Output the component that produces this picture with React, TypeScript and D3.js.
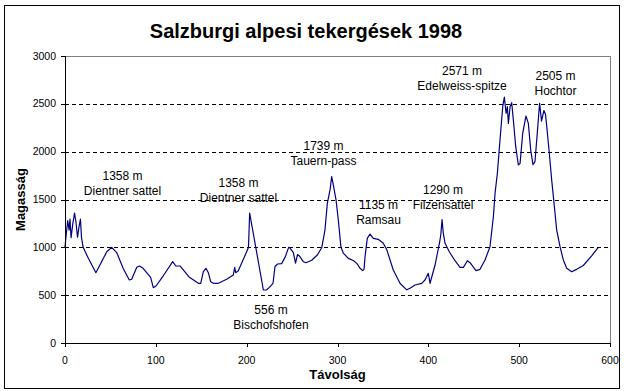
import React from "react";
import * as d3 from "d3";

const distance = [
  0, 1.5, 3, 4.5, 5.5, 6.7, 8.5, 10.5, 12, 13.8, 15.5, 17, 18.2, 20, 25.7, 34, 46, 51.4, 57, 64,
  70.8, 73.4, 79, 82, 86, 94.3, 97.2, 100.2, 108, 118.6, 122, 126.6, 137, 146.8, 149.4, 152.3,
  155.2, 157.8, 160.4, 163.3, 168.8, 178, 185.3, 186.8, 187.9, 190.8, 200, 202, 203.3, 218.4,
  222, 225, 229, 231.2, 234, 238.5, 242.5, 246.2, 248, 251.4, 253.8, 256, 258, 262.4, 265.3,
  271.6, 277.8, 282.6, 286.2, 288.8, 291.8, 293.6, 295.4, 298.4, 300.9, 303.8, 306.4, 311.9,
  317.4, 321.5, 324.8, 327.7, 329.2, 330.3, 332.8, 335.8, 339.4, 344.9, 350.4, 354.1, 361.4,
  368.8, 376.2, 379.8, 385.3, 392.7, 396.3, 400, 401.9, 403.7, 407.4, 412.2, 413.7, 415.1,
  416.5, 418.4, 423.1, 429.4, 434.9, 438.6, 443, 445.9, 452.5, 456.9, 462.4, 467.9, 471.6,
  473.4, 476, 478.9, 481.9, 483.7, 485.6, 487, 488.1, 490, 491.8, 493.6, 496.2, 499.1, 501,
  503.9, 507.5, 510.1, 512.7, 515.2, 517.4, 520, 522.5, 524.6, 527.2, 529, 530.4, 533.2, 535.8,
  538.4, 541.3, 545, 548.6, 552.3, 557.8, 563.3, 570.6, 579.8, 587.1,
];

const elevation = [
  1000, 1150, 1280, 1180, 1296, 1100, 1240, 1358, 1270, 1105, 1220, 1295, 1100, 1000, 885, 735,
  954, 1000, 944, 781, 659, 666, 791, 805, 781, 687, 578, 596, 700, 850, 805, 805, 687, 624, 624,
  745, 781, 735, 641, 624, 624, 666, 711, 791, 735, 756, 954, 1000, 1358, 554, 556, 582, 624,
  800, 826, 830, 900, 1000, 990, 944, 835, 925, 910, 850, 839, 865, 920, 995, 1181, 1460, 1600,
  1739, 1652, 1495, 1286, 1000, 940, 885, 862, 830, 781, 756, 770, 902, 1094, 1139, 1094, 1084,
  1042, 979, 763, 624, 556, 572, 606, 624, 659, 729, 624, 687, 815, 1042, 1129, 1290, 1146,
  1042, 954, 860, 791, 791, 860, 839, 756, 770, 868, 1007, 1320, 1560, 1774, 2122, 2470, 2571,
  2401, 2470, 2296, 2470, 2512, 2331, 2052, 1861, 1878, 2192, 2373, 2296, 2017, 1865, 1895,
  2200, 2505, 2320, 2430, 2390, 2261, 1983, 1704, 1460, 1181, 1007, 868, 781, 745, 770, 810,
  910, 1000,
];

const xTicks = [0, 100, 200, 300, 400, 500, 600];
const yTicks = [0, 500, 1000, 1500, 2000, 2500, 3000];

const labelTop = ["1358 m", "1358 m", "1739 m", "1135 m", "1290 m", "2571 m", "2505 m", "556 m"];
const labelBottom = [
  "Dientner sattel",
  "Dientner sattel",
  "Tauern-pass",
  "Ramsau",
  "Filzensattel",
  "Edelweiss-spitze",
  "Hochtor",
  "Bischofshofen",
];

// label placement (centre x, baseline y of first line) in pixels
const labelPos = [
  [122.5, 180],
  [238.5, 186.5],
  [323.5, 150],
  [378.5, 209],
  [443, 194],
  [462, 75],
  [555.5, 80],
  [271, 314],
];

export default function App() {
  const W = 624;
  const H = 391;
  const left = 65;
  const right = 610;
  const top = 56;
  const bottom = 343;

  const x = d3.scaleLinear().domain([0, 600]).range([left, right]);
  const y = d3.scaleLinear().domain([0, 3000]).range([bottom, top]);

  const pts: [number, number][] = distance.map((d, i) => [d, elevation[i]]);
  const line = d3
    .line<[number, number]>()
    .x((p) => x(p[0]))
    .y((p) => y(p[1]));

  const font = "'Liberation Sans', Arial, sans-serif";

  return (
    <svg
      width={W}
      height={H}
      style={{ position: "absolute", left: 0, top: 0, background: "#fff" }}
      fontFamily={font}
    >
      <rect x={0} y={0} width={W} height={H} fill="#fff" />
      <rect x={4.5} y={5.5} width={615} height={383} fill="none" stroke="#000" strokeWidth={1} />
      <text x={306} y={38} textAnchor="middle" fontSize={20} fontWeight="bold">
        Salzburgi alpesi tekergések 1998
      </text>

      {yTicks
        .filter((t) => t > 0 && t < 3000)
        .map((t) => (
          <line
            key={"g" + t}
            x1={left}
            x2={right}
            y1={Math.round(y(t)) + 0.5}
            y2={Math.round(y(t)) + 0.5}
            stroke="#000"
            strokeDasharray="4,3"
            strokeWidth={1}
          />
        ))}
      <line x1={left} x2={right + 0.5} y1={top + 0.5} y2={top + 0.5} stroke="#808080" />
      <line x1={right + 0.5} x2={right + 0.5} y1={top} y2={bottom} stroke="#808080" />

      <path d={line(pts) || ""} fill="none" stroke="#000080" strokeWidth={1.2} strokeLinejoin="round" />

      <line x1={left + 0.5} x2={left + 0.5} y1={top} y2={bottom + 0.5} stroke="#000" />
      <line x1={left} x2={right + 1} y1={bottom + 0.5} y2={bottom + 0.5} stroke="#000" />
      {yTicks.map((t) => (
        <g key={"y" + t}>
          <line
            x1={left - 4}
            x2={left}
            y1={Math.round(y(t)) + 0.5}
            y2={Math.round(y(t)) + 0.5}
            stroke="#000"
          />
          <text x={56} y={y(t) + 3.5} textAnchor="end" fontSize={10.5}>
            {t}
          </text>
        </g>
      ))}
      {xTicks.map((t) => (
        <g key={"x" + t}>
          <line
            x1={Math.round(x(t)) + 0.5}
            x2={Math.round(x(t)) + 0.5}
            y1={bottom}
            y2={bottom + 4}
            stroke="#000"
          />
          <text x={x(t)} y={363.5} textAnchor="middle" fontSize={10.5}>
            {t}
          </text>
        </g>
      ))}

      <text x={(left + right) / 2} y={379} textAnchor="middle" fontSize={13} fontWeight="bold">
        Távolság
      </text>
      <text
        transform={`translate(25, ${(top + bottom) / 2}) rotate(-90)`}
        textAnchor="middle"
        fontSize={13}
        fontWeight="bold"
      >
        Magasság
      </text>

      {labelTop.map((t, i) => (
        <g key={"a" + i}>
          <text x={labelPos[i][0]} y={labelPos[i][1]} textAnchor="middle" fontSize={12}>
            {t}
          </text>
          <text x={labelPos[i][0]} y={labelPos[i][1] + 15} textAnchor="middle" fontSize={12}>
            {labelBottom[i]}
          </text>
        </g>
      ))}
    </svg>
  );
}
